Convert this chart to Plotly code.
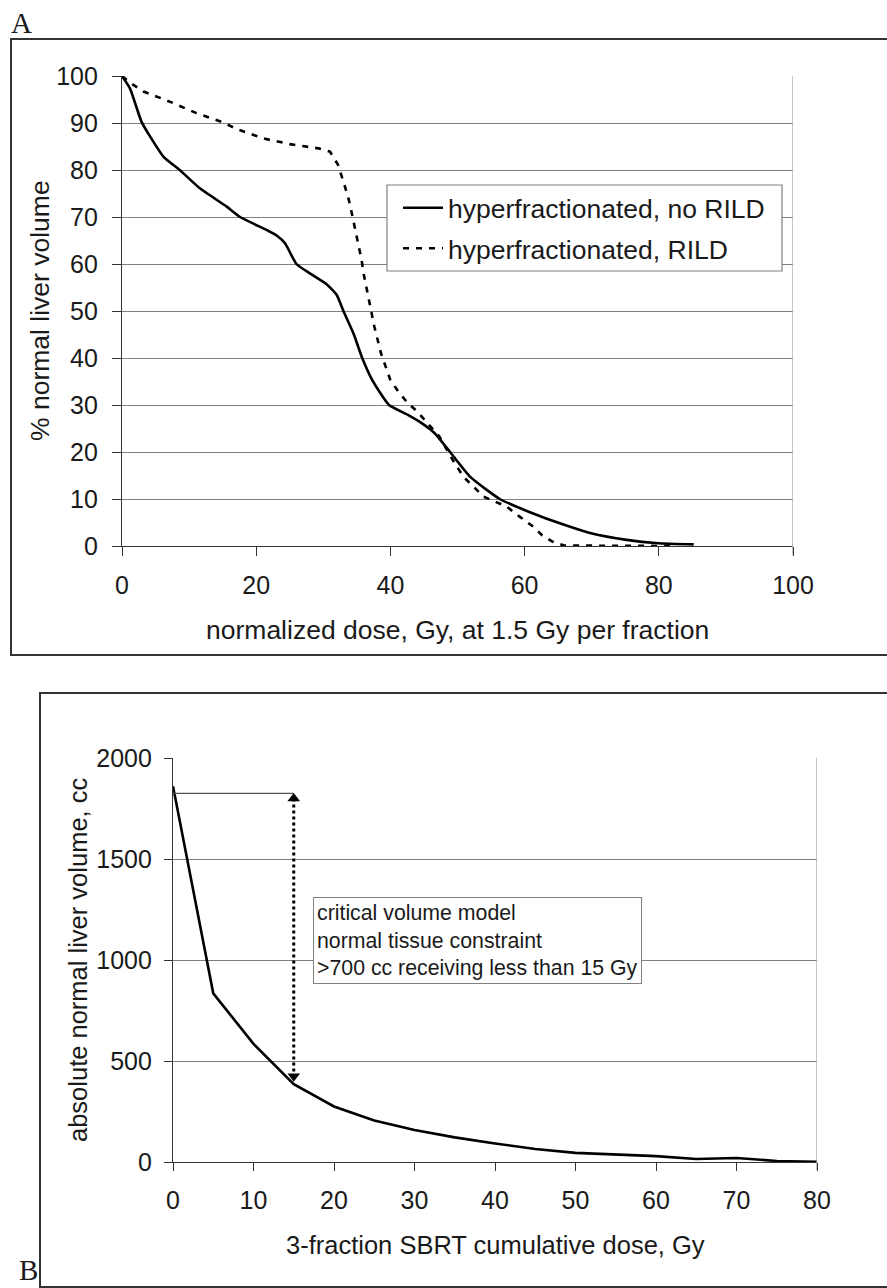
import plotly.graph_objects as go

W, H = 887, 1288

# ---------------- Panel A data ----------------
a_dose_norild = [0, 1.2, 2.9, 4.2, 6.2, 8.6, 11.6, 15.6, 17.6, 21.6, 23.1, 24.3, 26.0, 28.0,
                 30.5, 32.0, 33.0, 34.5, 35.8, 37.3, 39.8, 42.6, 44.6, 46.6, 48.9, 51.9,
                 56.3, 60.6, 65.9, 69.9, 75.2, 79.9, 85.2]
a_vol_norild = [100, 97.3, 90.3, 87.1, 82.8, 80.0, 76.1, 72.2, 70.0, 67.2, 66.0, 64.4, 60.0, 58.0,
                55.7, 53.4, 50.0, 45.2, 40.0, 35.3, 30.0, 27.9, 26.2, 24.0, 20.0, 14.7,
                10.0, 7.3, 4.5, 2.7, 1.3, 0.6, 0.35]

a_dose_rild = [0, 1.7, 3.2, 7.2, 11.1, 15.1, 17.1, 21.1, 25.0, 29.3, 31.0, 32.2, 33.0, 33.7,
               34.2, 34.7, 35.2, 35.7, 36.0, 36.5, 37.0, 37.6, 38.6, 40.0, 41.2, 42.6, 44.0,
               45.6, 47.3, 49.3, 50.9, 53.9, 57.3, 59.3, 61.3, 62.6, 64.2, 65.9, 82.0]
a_vol_rild = [100, 98.1, 96.7, 94.5, 92.1, 90.1, 88.7, 86.7, 85.5, 84.6, 83.9, 81.1, 77.5, 74.3,
              71.1, 67.9, 64.7, 60.9, 58.0, 54.5, 50.6, 46.7, 41.0, 35.3, 32.8, 30.4, 28.6,
              26.1, 23.3, 18.3, 14.7, 10.5, 8.4, 6.2, 4.1, 2.3, 0.9, 0.1, 0.0]

a_series_names = ["hyperfractionated, no RILD", "hyperfractionated, RILD"]
a_xticks = [0, 20, 40, 60, 80, 100]
a_yticks = [0, 10, 20, 30, 40, 50, 60, 70, 80, 90, 100]

# ---------------- Panel B data ----------------
b_dose = [0, 5, 10, 15, 20, 25, 30, 35, 40, 45, 50, 55, 60, 65, 70, 75, 80]
b_volume = [1860, 835, 585, 385, 275, 205, 158, 122, 92, 64, 45, 37, 29, 15, 20, 5, 1]
b_xticks = [0, 10, 20, 30, 40, 50, 60, 70, 80]
b_yticks = [0, 500, 1000, 1500, 2000]

# constraint marker: reference volume level at 0 Gy, and arrow at 15 Gy
b_ref_level = 1825
b_arrow_dose = 15
b_arrow_top = 1800
b_arrow_bottom = 425
b_note = "critical volume model<br>normal tissue constraint<br>>700 cc receiving less than 15 Gy"
b_note_pos = (17.4, 1312)

FONT = "Liberation Sans, Arial, sans-serif"
SERIF = "Liberation Serif, Times New Roman, serif"
TXT = "#1a1a1a"


def px_x(p):
    return p / W


def px_y(p):
    return 1 - p / H


fig = go.Figure()

# Panel A traces
fig.add_trace(go.Scatter(x=a_dose_norild, y=a_vol_norild, mode="lines", name=a_series_names[0],
                         line=dict(color="black", width=2.6, shape="spline", smoothing=0.5),
                         xaxis="x", yaxis="y", cliponaxis=False, legendgroup="g1"))
fig.add_trace(go.Scatter(x=a_dose_rild, y=a_vol_rild, mode="lines", name=a_series_names[1],
                         line=dict(color="black", width=2.6, dash="6px,7px"),
                         xaxis="x", yaxis="y", cliponaxis=False, legendgroup="g2"))

# Panel B traces
fig.add_trace(go.Scatter(x=b_dose, y=b_volume, mode="lines", showlegend=False,
                         line=dict(color="black", width=2.6),
                         xaxis="x2", yaxis="y2", cliponaxis=False))
fig.add_trace(go.Scatter(x=[b_dose[0], b_arrow_dose], y=[b_ref_level, b_ref_level], mode="lines",
                         showlegend=False, line=dict(color="#555555", width=1.2),
                         xaxis="x2", yaxis="y2", cliponaxis=False))
fig.add_trace(go.Scatter(x=[b_arrow_dose, b_arrow_dose], y=[b_arrow_top, b_arrow_bottom], mode="lines",
                         showlegend=False, line=dict(color="black", width=3, dash="dot"),
                         xaxis="x2", yaxis="y2", cliponaxis=False))
fig.add_trace(go.Scatter(x=[b_arrow_dose, b_arrow_dose], y=[b_arrow_top, b_arrow_bottom], mode="markers",
                         showlegend=False,
                         marker=dict(symbol=["triangle-up", "triangle-down"], size=11, color="black"),
                         xaxis="x2", yaxis="y2", cliponaxis=False))

axis_common = dict(showline=True, linecolor="#333333", linewidth=1.2, ticks="outside",
                   tickcolor="#333333", tickfont=dict(family=FONT, size=25, color=TXT),
                   zeroline=False, fixedrange=True, automargin=False)

fig.update_layout(
    width=W, height=H, margin=dict(l=0, r=0, t=0, b=0, autoexpand=False), autosize=False,
    paper_bgcolor="white", plot_bgcolor="white",
    showlegend=True,
    legend=dict(x=px_x(398), y=px_y(184), xanchor="left", yanchor="top",
                bgcolor="rgba(0,0,0,0)", borderwidth=0,
                font=dict(family=FONT, size=26.5, color=TXT), tracegroupgap=3,
                itemwidth=40),
    xaxis=dict(domain=[px_x(122), px_x(793)], range=[0, 100], tickvals=a_xticks,
               ticklen=9, showgrid=False, anchor="y", ticklabelstandoff=8, **axis_common),
    yaxis=dict(domain=[px_y(546), px_y(76)], range=[0, 100], tickvals=a_yticks,
               ticklen=9, showgrid=True, gridcolor="#808080", gridwidth=1.2, anchor="x",
               ticklabelstandoff=9, **axis_common),
    xaxis2=dict(domain=[px_x(173), px_x(817)], range=[0, 80], tickvals=b_xticks,
                ticklen=8, showgrid=False, anchor="y2", ticklabelstandoff=8, **axis_common),
    yaxis2=dict(domain=[px_y(1162), px_y(758)], range=[0, 2000], tickvals=b_yticks,
                ticklen=8, showgrid=True, gridcolor="#808080", gridwidth=1.2, anchor="x2",
                ticklabelstandoff=7, **axis_common),
)

shapes = [
    # panel frames
    dict(type="path", xref="paper", yref="paper",
         path=f"M 1.02 {px_y(39)} L {px_x(11)} {px_y(39)} L {px_x(11)} {px_y(655)} L 1.02 {px_y(655)}",
         line=dict(color="#333333", width=2)),
    dict(type="path", xref="paper", yref="paper",
         path=f"M 1.02 {px_y(693)} L {px_x(40)} {px_y(693)} L {px_x(40)} {px_y(1287)} L 1.02 {px_y(1287)}",
         line=dict(color="#333333", width=2)),
    # right borders of plot areas
    dict(type="line", xref="x", yref="y domain", x0=100, x1=100, y0=-0.019, y1=1,
         line=dict(color="#a0a0a0", width=1.2)),
    dict(type="line", xref="x2", yref="y2 domain", x0=80, x1=80, y0=-0.02, y1=1,
         line=dict(color="#a0a0a0", width=1.2)),
    # legend box (panel A)
    dict(type="rect", xref="paper", yref="paper", layer="above",
         x0=px_x(387), x1=px_x(782), y0=px_y(271), y1=px_y(185),
         fillcolor="white", line=dict(color="#808080", width=1.2)),
]
fig.update_layout(shapes=shapes)

annotations = [
    dict(text="A", x=px_x(9), y=px_y(22.5), xref="paper", yref="paper", xanchor="left", yanchor="middle",
         showarrow=False, font=dict(family=SERIF, size=29, color=TXT)),
    dict(text="B", x=px_x(17), y=px_y(1287.5), xref="paper", yref="paper", xanchor="left", yanchor="bottom",
         showarrow=False, font=dict(family=SERIF, size=29, color=TXT)),
    dict(text="normalized dose, Gy, at 1.5 Gy per fraction", x=px_x(457), y=px_y(630),
         xref="paper", yref="paper", xanchor="center", yanchor="middle", showarrow=False,
         font=dict(family=FONT, size=26.5, color=TXT)),
    dict(text="% normal liver volume", x=px_x(40), y=px_y(311), xref="paper", yref="paper",
         xanchor="center", yanchor="middle", textangle=-90, showarrow=False,
         font=dict(family=FONT, size=26.5, color=TXT)),
    dict(text="3-fraction SBRT cumulative dose, Gy", x=px_x(495), y=px_y(1245),
         xref="paper", yref="paper", xanchor="center", yanchor="middle", showarrow=False,
         font=dict(family=FONT, size=25.5, color=TXT)),
    dict(text="absolute normal liver volume, cc", x=px_x(78), y=px_y(960), xref="paper", yref="paper",
         xanchor="center", yanchor="middle", textangle=-90, showarrow=False,
         font=dict(family=FONT, size=25.5, color=TXT)),
    dict(text=b_note, x=b_note_pos[0], y=b_note_pos[1], xref="x2", yref="y2",
         xanchor="left", yanchor="top", align="left", showarrow=False,
         bgcolor="white", bordercolor="#808080", borderwidth=1, borderpad=3,
         font=dict(family=FONT, size=21.3, color=TXT)),
]
fig.update_layout(annotations=annotations)

fig.write_html("out.html", config={"displayModeBar": False},
               post_script="document.body.style.margin='0';document.body.style.padding='0';"
                           "document.documentElement.style.overflow='hidden';")
